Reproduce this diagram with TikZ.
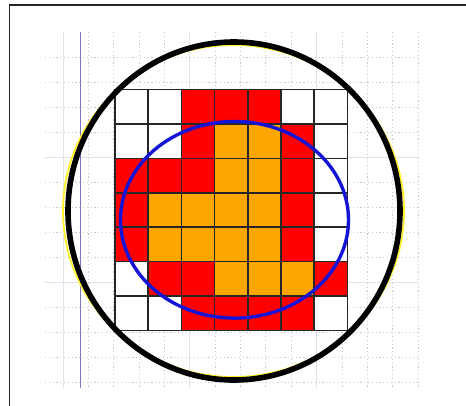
\documentclass[tikz,border=0pt]{standalone}
\definecolor{W}{RGB}{255,255,255}
\definecolor{R}{RGB}{255,0,0}
\definecolor{O}{RGB}{255,165,0}
\definecolor{gridc}{RGB}{200,200,206}
\definecolor{gridmaj}{RGB}{222,225,238}
\definecolor{lilac}{RGB}{120,120,200}
\definecolor{ringyel}{RGB}{255,240,40}
\definecolor{ellblue}{RGB}{20,20,215}
\begin{document}
\begin{tikzpicture}[x=1pt,y=-1pt,
  minor/.style={draw=gridc, line width=0.8pt, dash pattern=on 1.2pt off 2.6pt},
  major/.style={draw=gridmaj, line width=1pt},
  cellbox/.style={draw=black!85, line width=1.6pt},
  frame/.style={draw=black!85, line width=1.8pt}]
\useasboundingbox (0,0) rectangle (466,405);
\clip (0,0) rectangle (466,405);
\fill[white] (0,0) rectangle (466,405);
% outer frame (only top and left edges visible)
\draw[frame] (9.5,420) -- (9.5,5) -- (480,5);
% background grid
\foreach \k in {0,...,14} {
  \pgfmathsetmacro\xx{63+25.36*\k}
  \draw[minor] (\xx,32) -- (\xx,388);
}
\foreach \k in {0,...,13} {
  \pgfmathsetmacro\yy{57+25*\k}
  \draw[minor] (45,\yy) -- (418,\yy);
}
\foreach \xx in {63,189.8,316.6} \draw[major] (\xx,32) -- (\xx,388);
\foreach \yy in {157,282} \draw[major] (45,\yy) -- (418,\yy);
% blue vertical axis
\draw[lilac, line width=1.8pt] (80.5,32) -- (80.5,388);
% cells
\foreach \c [count=\j from 0] in {W,W,R,R,R,W,W}
  \filldraw[cellbox, fill=\c] ({115+33.2*\j},89.5) rectangle ++(33.2,34.4);
\foreach \c [count=\j from 0] in {W,W,R,O,O,R,W}
  \filldraw[cellbox, fill=\c] ({115+33.2*\j},123.9) rectangle ++(33.2,34.4);
\foreach \c [count=\j from 0] in {R,R,R,O,O,R,W}
  \filldraw[cellbox, fill=\c] ({115+33.2*\j},158.3) rectangle ++(33.2,34.4);
\foreach \c [count=\j from 0] in {R,O,O,O,O,R,W}
  \filldraw[cellbox, fill=\c] ({115+33.2*\j},192.7) rectangle ++(33.2,34.4);
\foreach \c [count=\j from 0] in {R,O,O,O,O,R,W}
  \filldraw[cellbox, fill=\c] ({115+33.2*\j},227.1) rectangle ++(33.2,34.4);
\foreach \c [count=\j from 0] in {W,R,R,O,O,O,R}
  \filldraw[cellbox, fill=\c] ({115+33.2*\j},261.5) rectangle ++(33.2,34.4);
\foreach \c [count=\j from 0] in {W,W,R,R,R,R,W}
  \filldraw[cellbox, fill=\c] ({115+33.2*\j},295.9) rectangle ++(33.2,34.4);
% rings
\draw[ringyel, line width=1.8pt] (233.5,211) ellipse [x radius=170.5, y radius=166];
\draw[black, line width=5.6pt] (234,211) ellipse [x radius=166, y radius=169];
\draw[ellblue, line width=3.4pt] (234.5,219.8) ellipse [x radius=114, y radius=98.3];
\end{tikzpicture}
\end{document}
